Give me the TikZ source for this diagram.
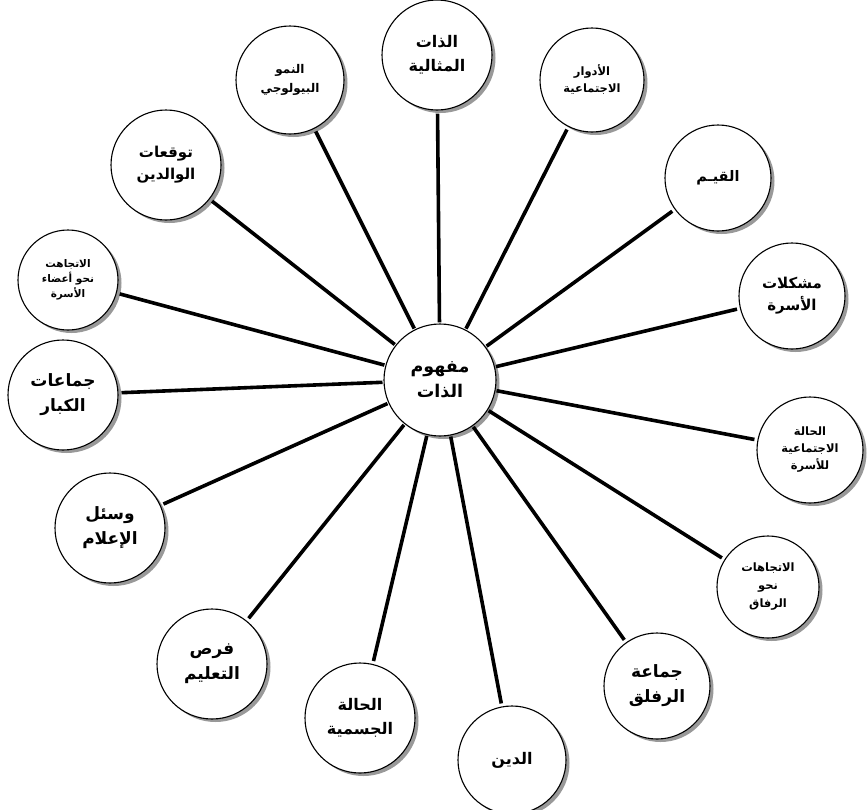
\documentclass[tikz,border=0pt]{standalone}
\usepackage{fontspec}
\newfontfamily\arabicfont[Script=Arabic]{DejaVu Sans}
\TeXXeTstate=1
\usetikzlibrary{shadows}
\tikzset{
  bub/.style={circle, draw=black, line width=1.1pt, fill=white, inner sep=0pt,
    align=center, minimum size=#1,
    drop shadow={shadow xshift=3.5pt, shadow yshift=-3pt, fill=black!40, opacity=1}},
  fs/.style 2 args={font=\arabicfont\bfseries\fontsize{#1}{#2}\selectfont},
  spoke/.style={line width=3.6pt, black, shorten <=3pt, shorten >=1pt}
}
\newcommand\rl[1]{\beginR #1\endR}
\begin{document}
\begin{tikzpicture}[x=1pt,y=-1pt]
\useasboundingbox (0,0) rectangle (867,809);
\fill[white] (0,0) rectangle (867,809);
% centre
\node[bub=112pt, fs={17.5}{25}] (c) at (440,380) {\rl{مفهوم}\\\rl{الذات}};
% outer nodes
\node[bub=110pt, fs={16}{24}] (n1) at (437,55) {\rl{الذات}\\\rl{المثالية}};
\node[bub=104pt, fs={11.5}{17}] (n2) at (592,80) {\rl{الأدوار}\\\rl{الاجتماعية}};
\node[bub=106pt, fs={14.5}{18}] (n3) at (718,178) {\rl{القيـم}};
\node[bub=106pt, fs={15}{22}] (n4) at (792,296) {\rl{مشكلات}\\\rl{الأسرة}};
\node[bub=106pt, fs={11.5}{17}] (n5) at (810,450) {\rl{الحالة}\\\rl{الاجتماعية}\\\rl{للأسرة}};
\node[bub=102pt, fs={11.5}{18}] (n6) at (768,587) {\rl{الاتجاهات}\\\rl{نحو}\\\rl{الرفاق}};
\node[bub=106pt, fs={17}{25}] (n7) at (657,686) {\rl{جماعة}\\\rl{الرفلق}};
\node[bub=108pt, fs={16}{20}] (n8) at (512,760) {\rl{الدين}};
\node[bub=110pt, fs={16}{24}] (n9) at (360,718) {\rl{الحالة}\\\rl{الجسمية}};
\node[bub=110pt, fs={17}{25}] (n10) at (212,664) {\rl{فرص}\\\rl{التعليم}};
\node[bub=110pt, fs={17}{25}] (n11) at (110,528) {\rl{وسئل}\\\rl{الإعلام}};
\node[bub=110pt, fs={17}{25}] (n12) at (63,395) {\rl{جماعات}\\\rl{الكبار}};
\node[bub=100pt, fs={10.5}{15}] (n13) at (68,280) {\rl{الاتجاهت}\\\rl{نحو أعضاء}\\\rl{الأسرة}};
\node[bub=110pt, fs={15}{22}] (n14) at (166,165) {\rl{توقعات}\\\rl{الوالدين}};
\node[bub=108pt, fs={12}{19}] (n15) at (290,80) {\rl{النمو}\\\rl{البيولوجي}};
% spokes
\foreach \i in {1,...,15}{\draw[spoke] (n\i) -- (c);}
\end{tikzpicture}
\end{document}
